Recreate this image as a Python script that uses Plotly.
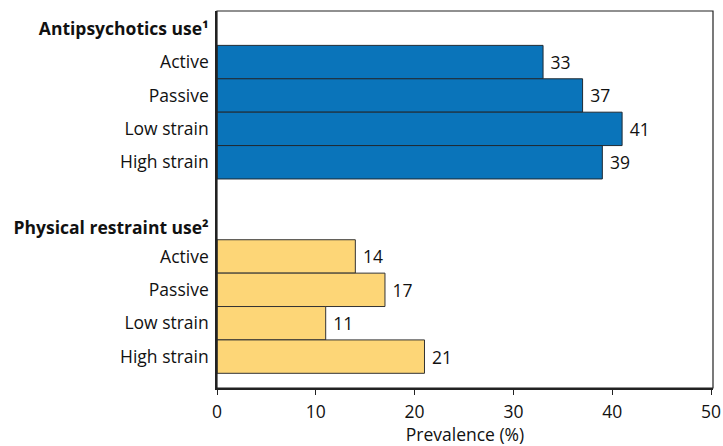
import plotly.graph_objects as go

groups = ["Antipsychotics use¹", "Physical restraint use²"]
categories = ["Active", "Passive", "Low strain", "High strain"]
antipsychotics = [33, 37, 41, 39]
restraint = [14, 17, 11, 21]
tick_vals_x = [0, 10, 20, 30, 40, 50]

FONT = "Open Sans"
FS = 17.5
blue = "#0A74BA"
yellow = "#FDD677"

# layout positions (row units, reversed axis)
g1_header = -1.0
g1_pos = [0, 1, 2, 3]
g2_header = 4.97
g2_pos = [p + 5.82 for p in g1_pos]

fig = go.Figure()
fig.add_trace(go.Bar(
    x=antipsychotics, y=g1_pos, orientation="h", width=1,
    marker=dict(color=blue, line=dict(color="#1f2a33", width=1)),
    text=[" " + str(v) for v in antipsychotics], textposition="outside",
    textfont=dict(family=FONT, size=FS, color="#111"), cliponaxis=False,
))
fig.add_trace(go.Bar(
    x=restraint, y=g2_pos, orientation="h", width=1,
    marker=dict(color=yellow, line=dict(color="#333333", width=1)),
    text=[" " + str(v) for v in restraint], textposition="outside",
    textfont=dict(family=FONT, size=FS, color="#111"), cliponaxis=False,
))

tickvals = [g1_header] + g1_pos + [g2_header] + g2_pos
ticktext = ["<b>" + groups[0] + "</b>"] + categories + ["<b>" + groups[1] + "</b>"] + categories

fig.update_layout(
    autosize=False,
    width=723, height=446,
    margin=dict(l=217, r=10, t=11, b=58),
    plot_bgcolor="white", paper_bgcolor="white",
    showlegend=False, barmode="overlay",
    font=dict(family=FONT, size=FS, color="#111"),
    shapes=[dict(type="rect", xref="paper", yref="paper", x0=0, x1=1, y0=0, y1=1,
                 line=dict(color="#222", width=1.2), fillcolor="rgba(0,0,0,0)", layer="above")],
)
fig.update_xaxes(
    automargin=False,
    range=[0, 50.2], tickvals=tick_vals_x, ticks="outside", ticklen=5, tickcolor="#222",
    showgrid=False, zeroline=False, showline=True, linecolor="#222", linewidth=1.5,
    title=dict(text="Prevalence (%)", standoff=8, font=dict(family=FONT, size=FS)),
    tickfont=dict(family=FONT, size=FS), ticklabelstandoff=2,
)
fig.update_yaxes(
    automargin=False,
    range=[9.76, -1.53], tickvals=tickvals, ticktext=ticktext, ticks="",
    showgrid=False, zeroline=False, showline=True, linecolor="#222", linewidth=1.5,
    tickfont=dict(family=FONT, size=FS), ticklabelstandoff=3,
)
fig.write_html("out.html",
               config={"displayModeBar": False, "responsive": False},
               post_script="document.body.style.margin='0';document.body.style.padding='0';"
                           "document.documentElement.style.overflow='hidden';document.body.style.overflow='hidden';")
